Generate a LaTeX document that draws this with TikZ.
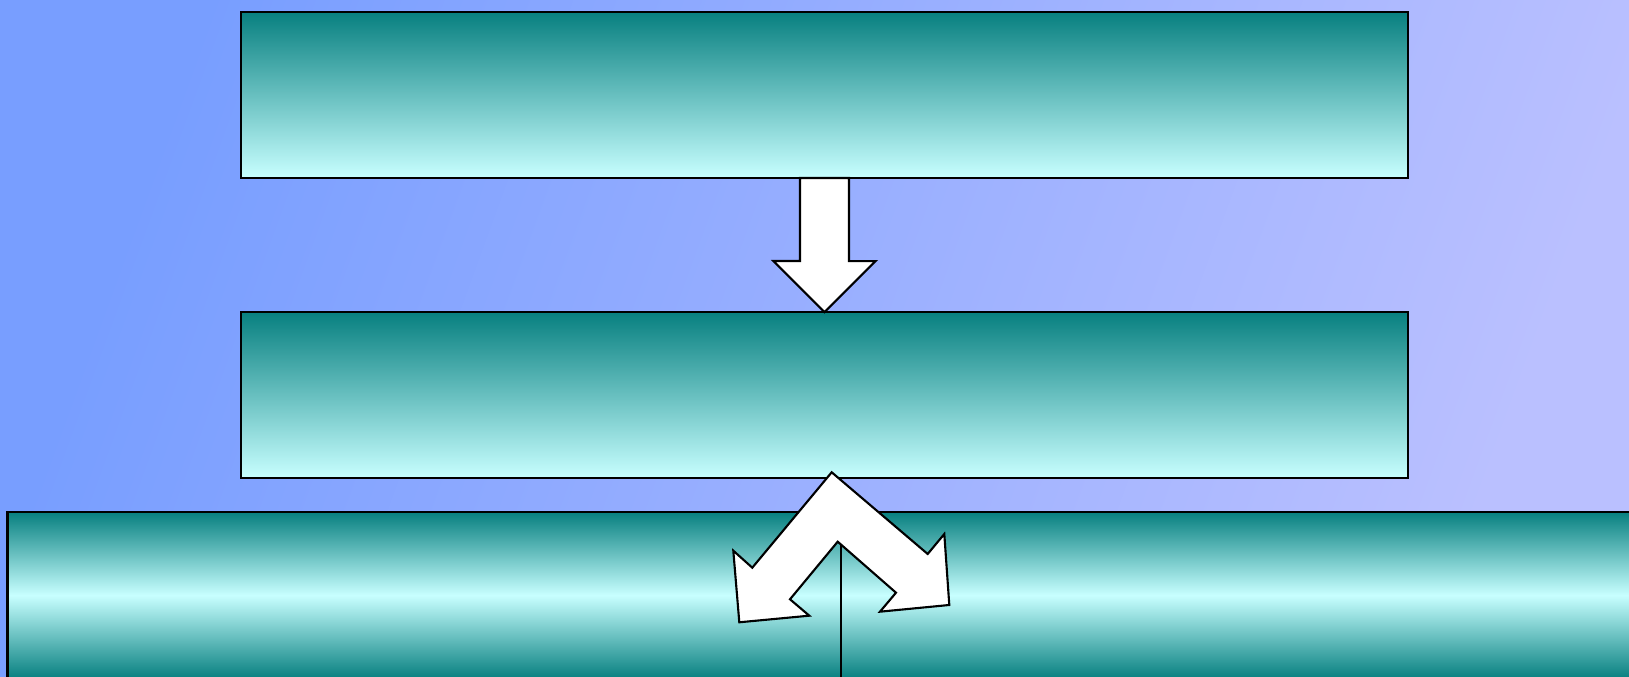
\documentclass[tikz,border=0pt]{standalone}
\usepackage{tikz}
\usetikzlibrary{positioning,calc}

\definecolor{bgleft}{RGB}{120,158,255}
\definecolor{bgright}{RGB}{186,192,255}
\definecolor{tealdark}{RGB}{8,128,128}
\definecolor{cyanlight}{RGB}{200,255,255}

\begin{document}
\begin{tikzpicture}[
    x=0.01cm,
    y=-0.01cm,
    node distance=1.34cm,
    stage/.style={
		rectangle,
		draw=black,
		line width=0.6pt,
		inner sep=0pt,
		outer sep=0pt,
		minimum width=11.67cm,
		minimum height=1.66cm,
		top color=tealdark,
		bottom color=cyanlight
	},
	base/.style={
		rectangle,
		draw=black,
		line width=0.6pt,
		inner sep=0pt,
		outer sep=0pt,
		minimum width=16.33cm,
		minimum height=1.66cm,
		top color=tealdark,
		bottom color=tealdark,
		middle color=cyanlight
	},
	blockarrow/.style={
		draw=black,
		line width=0.6pt,
		fill=white,
		line join=miter
	}
  ]

% // background
\useasboundingbox (0,0) rectangle (1629,677);
\clip (0,0) rectangle (1629,677);
\shade [left color=bgleft, right color=bgright, shading angle=70] (0,0) rectangle (1629,677);

% // the boxes
 \node [stage] (top) at (824.5,95) {};
 \node [stage, below=of top] (mid) {};
 \node [base, below=0.34cm of mid] (low) {};

% // down arrow
 \draw [blockarrow] ([xshift=-0.245cm]top.south) -- ++(0,83) -- ++(-26.5,0)
   -- (mid.north) -- ++(51,-51) -- ++(-26.5,0) -- ([xshift=0.245cm]top.south) -- cycle;

% // split arrow
 \coordinate (forkin) at (841,541.7);
 \draw [line width=0.6pt] (forkin) -- (forkin |- low.south);
 \draw [blockarrow] (831.7,472.3) -- (927.7,554) -- (944.3,534) -- (949.3,605)
   -- (880,611.7) -- (896,592.7) -- (837.7,541.7) -- (790,599.3) -- (809.3,615.7)
   -- (739.3,622.3) -- (733.3,550.7) -- (752.3,567.7) -- cycle;

\end{tikzpicture}
\end{document}
